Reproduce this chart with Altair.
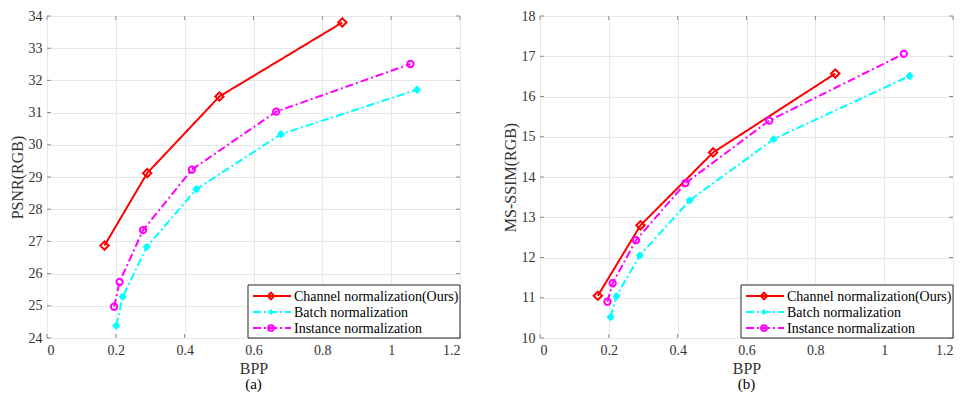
import altair as alt
import pandas as pd

SERIES = ["Channel normalization(Ours)", "Batch normalization", "Instance normalization"]
COLORS = ["#FF0000", "#00FFFF", "#FF00FF"]

# Panel (a) PSNR
a_ch_x = [0.167, 0.291, 0.501, 0.858]
a_ch_y = [26.87, 29.12, 31.50, 33.80]
a_bn_x = [0.201, 0.220, 0.290, 0.434, 0.680, 1.075]
a_bn_y = [24.38, 25.28, 26.83, 28.62, 30.33, 31.71]
a_in_x = [0.195, 0.211, 0.279, 0.421, 0.666, 1.056]
a_in_y = [24.97, 25.74, 27.35, 29.23, 31.03, 32.51]

# Panel (b) MS-SSIM
b_ch_x = [0.168, 0.292, 0.503, 0.858]
b_ch_y = [11.05, 12.80, 14.61, 16.57]
b_bn_x = [0.205, 0.222, 0.290, 0.435, 0.679, 1.074]
b_bn_y = [10.52, 11.04, 12.05, 13.42, 14.94, 16.51]
b_in_x = [0.196, 0.211, 0.279, 0.423, 0.666, 1.057]
b_in_y = [10.90, 11.36, 12.43, 13.85, 15.40, 17.06]

X_TICKS = [0, 0.2, 0.4, 0.6, 0.8, 1.0, 1.2]
A_Y_TICKS = [24, 25, 26, 27, 28, 29, 30, 31, 32, 33, 34]
B_Y_TICKS = [10, 11, 12, 13, 14, 15, 16, 17, 18]

PLUS = "M-1,0L1,0M0,-1L0,1M-0.6,-0.6L0.6,0.6M-0.6,0.6L0.6,-0.6"
SHAPES = ["diamond", PLUS, "circle"]
DASHES = [[1, 0], [8, 3, 2, 3], [8, 3, 2, 3]]
SIZES = [70, 40, 55]

W, H = 413, 322
FONT = "Liberation Serif"
TXT = "#333333"
FRAME = "#8c8c8c"


def make_df(sets):
    rows = []
    for name, xs, ys in sets:
        for x, y in zip(xs, ys):
            rows.append({"series": name, "bpp": x, "val": y})
    return pd.DataFrame(rows)


def panel(df, ytitle, ydomain, yticks, label):
    xscale = alt.Scale(domain=[0, 1.2], nice=False)
    yscale = alt.Scale(domain=ydomain, nice=False, zero=False)
    xaxis = alt.Axis(values=X_TICKS, format="~g", grid=True, ticks=False,
                     labelPadding=5, titlePadding=3)
    yaxis = alt.Axis(values=yticks, grid=True, ticks=False, labelPadding=5, titlePadding=3)

    def X(f):
        return alt.X(f, title="BPP", scale=xscale, axis=xaxis)

    def Y(f):
        return alt.Y(f, title=ytitle, scale=yscale, axis=yaxis)

    base = alt.Chart(df)
    col = alt.Color("series:N", scale=alt.Scale(domain=SERIES, range=COLORS), legend=None)
    lines = base.mark_line(strokeWidth=2).encode(
        x=X("bpp:Q"), y=Y("val:Q"), color=col,
        strokeDash=alt.StrokeDash("series:N", scale=alt.Scale(domain=SERIES, range=DASHES), legend=None),
        order="bpp:Q",
    )
    pts = base.mark_point(filled=False, strokeWidth=2, opacity=1).encode(
        x=X("bpp:Q"), y=Y("val:Q"),
        color=col,
        shape=alt.Shape("series:N", scale=alt.Scale(domain=SERIES, range=SHAPES), legend=None),
        size=alt.Size("series:N", scale=alt.Scale(domain=SERIES, range=SIZES), legend=None),
    )
    xt = pd.DataFrame({"tx": X_TICKS})
    yt = pd.DataFrame({"ty": yticks})
    tk = dict(color=FRAME, strokeWidth=1)
    ticks = [
        alt.Chart(xt).mark_rule(**tk).encode(x=X("tx:Q"), y=alt.value(H), y2=alt.value(H - 4)),
        alt.Chart(xt).mark_rule(**tk).encode(x=X("tx:Q"), y=alt.value(0), y2=alt.value(4)),
        alt.Chart(yt).mark_rule(**tk).encode(y=Y("ty:Q"), x=alt.value(0), x2=alt.value(4)),
        alt.Chart(yt).mark_rule(**tk).encode(y=Y("ty:Q"), x=alt.value(W), x2=alt.value(W - 4)),
    ]
    one = pd.DataFrame({"k": [0]})
    bx0 = W - 212
    box = alt.Chart(one).mark_rect(fill="white", stroke="#262626", strokeWidth=1).encode(
        x=alt.value(bx0), x2=alt.value(W), y=alt.value(H - 53), y2=alt.value(H))
    layers = [lines] + ticks + [pts, box]
    for i, name in enumerate(SERIES):
        yy = H - 42 + 16 * i
        layers.append(alt.Chart(one).mark_rule(color=COLORS[i], strokeWidth=2,
                                               strokeDash=DASHES[i]).encode(
            x=alt.value(bx0 + 5), x2=alt.value(bx0 + 43), y=alt.value(yy)))
        layers.append(alt.Chart(one).mark_point(shape=SHAPES[i], color=COLORS[i], filled=False,
                                                strokeWidth=2, size=SIZES[i] * 0.6, opacity=1).encode(
            x=alt.value(bx0 + 23), y=alt.value(yy)))
        layers.append(alt.Chart(one).mark_text(text=name, align="left", baseline="middle",
                                               font=FONT, fontSize=14, color="#000000").encode(
            x=alt.value(bx0 + 46), y=alt.value(yy + 1)))
    return alt.layer(*layers).properties(
        width=W, height=H,
        title=alt.TitleParams(label, orient="bottom", font=FONT, fontSize=15,
                              fontWeight="normal", color="#000000", offset=1),
    )


dfa = make_df([(SERIES[0], a_ch_x, a_ch_y), (SERIES[1], a_bn_x, a_bn_y), (SERIES[2], a_in_x, a_in_y)])
dfb = make_df([(SERIES[0], b_ch_x, b_ch_y), (SERIES[1], b_bn_x, b_bn_y), (SERIES[2], b_in_x, b_in_y)])

pa = panel(dfa, "PSNR(RGB)", [24, 34], A_Y_TICKS, "(a)")
pb = panel(dfb, "MS-SSIM(RGB)", [10, 18], B_Y_TICKS, "(b)")

chart = alt.hconcat(pa, pb, spacing=40).configure(
    background="white", padding={"left": 0, "top": 0, "right": 0, "bottom": 0}
).configure_view(
    stroke=FRAME, strokeWidth=1
).configure_axis(
    labelFont=FONT, titleFont=FONT, labelFontSize=14, titleFontSize=16,
    labelColor=TXT, titleColor=TXT, titleFontWeight="normal",
    gridColor="#e8e8e8", gridWidth=1, domain=False, labelOverlap=False,
)

chart.save("out.html", embed_options={"renderer": "svg", "actions": False})
